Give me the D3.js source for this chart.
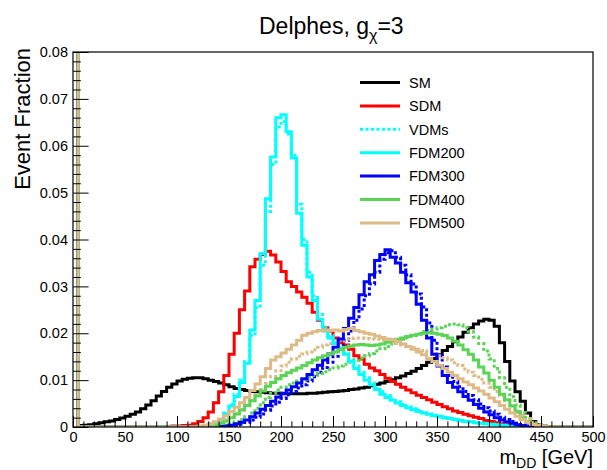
<!DOCTYPE html>
<html>
  <head>
    <meta http-equiv="Content-type" content="text/html; charset=utf-8"/>
    <title>Delphes m_DD</title>
    <script src="https://d3js.org/d3.v7.min.js"></script>
    <style>
      body{ margin: 0; background: #fff; }
      svg{ display: block; font-family: "Liberation Sans", Arial, Helvetica, sans-serif; }
    </style>
  </head>
  <body>
    <svg width="607" height="470"></svg>
    <script>
      // ### Data: 100 bins of 5 GeV, 0-500 GeV (first bin overflows the frame) ###
      var binWidth = 5;
      var xTicks = [0, 50, 100, 150, 200, 250, 300, 350, 400, 450, 500];
      var yTicks = [0, 0.01, 0.02, 0.03, 0.04, 0.05, 0.06, 0.07, 0.08];

      var SM = [
        0.1, 0.0003, 0.0004, 0.0005, 0.0007, 0.0009, 0.0011, 0.0013, 0.0016, 0.0019,
        0.0023, 0.0027, 0.0032, 0.0039, 0.0047, 0.0056, 0.0066, 0.0076, 0.0085, 0.0092,
        0.0098, 0.0102, 0.0104, 0.0105, 0.0105, 0.0103, 0.0100, 0.0097, 0.0094, 0.0090,
        0.0086, 0.0082, 0.0080, 0.0078, 0.0076, 0.0075, 0.0074, 0.0073, 0.0072, 0.0072,
        0.0071, 0.0071, 0.0071, 0.0071, 0.0071, 0.0072, 0.0072, 0.0073, 0.0074, 0.0075,
        0.0076, 0.0077, 0.0078, 0.0080, 0.0081, 0.0083, 0.0085, 0.0088, 0.0091, 0.0094,
        0.0097, 0.0101, 0.0105, 0.0109, 0.0114, 0.0119, 0.0125, 0.0131, 0.0138, 0.0146,
        0.0154, 0.0163, 0.0172, 0.0182, 0.0192, 0.0202, 0.0212, 0.0220, 0.0226, 0.0230,
        0.0228, 0.0215, 0.0180, 0.0140, 0.0098, 0.0075, 0.0055, 0.0030, 0.0012, 0.0005,
        0.0002, 0.0001, 0, 0, 0, 0, 0, 0, 0, 0
      ];
      var SDM = [
        0.1, 0, 0, 0, 0, 0, 0, 0, 0, 0,
        0, 0, 0, 0, 0, 0, 0, 0.0001, 0.0001, 0.0002,
        0.0002, 0.0003, 0.0004, 0.0007, 0.0012, 0.0020, 0.0032, 0.0052, 0.0075, 0.0110,
        0.0155, 0.0200, 0.0250, 0.0290, 0.0342, 0.0358, 0.0368, 0.0375, 0.0367, 0.0352,
        0.0332, 0.0310, 0.0300, 0.0288, 0.0277, 0.0264, 0.0245, 0.0228, 0.0212, 0.0205,
        0.0190, 0.0180, 0.0175, 0.0166, 0.0152, 0.0145, 0.0134, 0.0126, 0.0120, 0.0112,
        0.0104, 0.0097, 0.0091, 0.0085, 0.0079, 0.0073, 0.0068, 0.0063, 0.0058, 0.0053,
        0.0048, 0.0043, 0.0039, 0.0034, 0.0031, 0.0027, 0.0024, 0.0021, 0.0018, 0.0014,
        0.0012, 0.0009, 0.0007, 0.0005, 0.0004, 0.0003, 0.0002, 0.0001, 0.0001, 0.0001,
        0, 0, 0, 0, 0, 0, 0, 0, 0, 0
      ];
      var FDM200 = [
        0.1, 0, 0, 0, 0, 0, 0, 0, 0, 0,
        0, 0, 0, 0, 0, 0, 0, 0, 0, 0,
        0, 0, 0, 0, 0.0001, 0.0002, 0.0004, 0.0008, 0.0015, 0.0028,
        0.0045, 0.0065, 0.0095, 0.0136, 0.0207, 0.0270, 0.0370, 0.0487, 0.0576, 0.0660,
        0.0666, 0.0630, 0.0574, 0.0456, 0.0388, 0.0320, 0.0270, 0.0230, 0.0205, 0.0190,
        0.0178, 0.0166, 0.0155, 0.0140, 0.0125, 0.0112, 0.0100, 0.0090, 0.0080, 0.0070,
        0.0063, 0.0057, 0.0051, 0.0046, 0.0041, 0.0037, 0.0033, 0.0030, 0.0027, 0.0024,
        0.0022, 0.0020, 0.0018, 0.0016, 0.0014, 0.0012, 0.0011, 0.0009, 0.0008, 0.0007,
        0.0006, 0.0005, 0.0004, 0.0003, 0.0002, 0.0002, 0.0002, 0.0001, 0.0001, 0.0001,
        0, 0, 0, 0, 0, 0, 0, 0, 0, 0
      ];
      var VDM200 = [
        0.1, 0, 0, 0, 0, 0, 0, 0, 0, 0,
        0, 0, 0, 0, 0, 0, 0, 0, 0, 0,
        0, 0, 0, 0, 0.0001, 0.0002, 0.0004, 0.0008, 0.0016, 0.0030,
        0.0048, 0.0070, 0.0100, 0.0140, 0.0195, 0.0255, 0.0345, 0.0460, 0.0560, 0.0640,
        0.0652, 0.0625, 0.0580, 0.0475, 0.0400, 0.0330, 0.0280, 0.0240, 0.0212, 0.0195,
        0.0182, 0.0170, 0.0158, 0.0144, 0.0130, 0.0117, 0.0105, 0.0094, 0.0084, 0.0075,
        0.0067, 0.0060, 0.0054, 0.0048, 0.0043, 0.0039, 0.0035, 0.0031, 0.0028, 0.0025,
        0.0023, 0.0021, 0.0019, 0.0017, 0.0015, 0.0013, 0.0011, 0.0010, 0.0008, 0.0007,
        0.0006, 0.0005, 0.0004, 0.0003, 0.0002, 0.0002, 0.0002, 0.0001, 0.0001, 0.0001,
        0, 0, 0, 0, 0, 0, 0, 0, 0, 0
      ];
      var FDM300 = [
        0.1, 0, 0, 0, 0, 0, 0, 0, 0, 0,
        0, 0, 0, 0, 0, 0, 0, 0, 0, 0,
        0, 0, 0, 0, 0, 0, 0, 0, 0.0001, 0.0002,
        0.0004, 0.0007, 0.0010, 0.0015, 0.0022, 0.0030, 0.0038, 0.0046, 0.0055, 0.0064,
        0.0072, 0.0079, 0.0086, 0.0094, 0.0103, 0.0112, 0.0122, 0.0132, 0.0143, 0.0156,
        0.0170, 0.0188, 0.0210, 0.0232, 0.0255, 0.0282, 0.0310, 0.0325, 0.0355, 0.0368,
        0.0378, 0.0362, 0.0350, 0.0330, 0.0308, 0.0288, 0.0262, 0.0228, 0.0190, 0.0155,
        0.0130, 0.0110, 0.0095, 0.0085, 0.0075, 0.0065, 0.0057, 0.0048, 0.0040, 0.0032,
        0.0026, 0.0020, 0.0015, 0.0011, 0.0008, 0.0005, 0.0003, 0.0002, 0.0002, 0.0001,
        0, 0, 0, 0, 0, 0, 0, 0, 0, 0
      ];
      var VDM300 = [
        0.1, 0, 0, 0, 0, 0, 0, 0, 0, 0,
        0, 0, 0, 0, 0, 0, 0, 0, 0, 0,
        0, 0, 0, 0, 0, 0, 0, 0, 0, 0,
        0.0002, 0.0004, 0.0006, 0.0010, 0.0015, 0.0021, 0.0028, 0.0036, 0.0045, 0.0053,
        0.0061, 0.0069, 0.0076, 0.0083, 0.0090, 0.0098, 0.0107, 0.0117, 0.0127, 0.0138,
        0.0151, 0.0166, 0.0185, 0.0205, 0.0228, 0.0252, 0.0280, 0.0305, 0.0330, 0.0358,
        0.0372, 0.0376, 0.0362, 0.0345, 0.0325, 0.0305, 0.0284, 0.0256, 0.0222, 0.0185,
        0.0152, 0.0128, 0.0110, 0.0097, 0.0086, 0.0076, 0.0067, 0.0058, 0.0049, 0.0041,
        0.0034, 0.0027, 0.0021, 0.0016, 0.0012, 0.0008, 0.0005, 0.0003, 0.0002, 0.0001,
        0, 0, 0, 0, 0, 0, 0, 0, 0, 0
      ];
      var FDM400 = [
        0.1, 0, 0, 0, 0, 0, 0, 0, 0, 0,
        0, 0, 0, 0, 0, 0, 0, 0, 0, 0,
        0, 0, 0, 0, 0, 0, 0.0002, 0.0004, 0.0008, 0.0013,
        0.0020, 0.0028, 0.0037, 0.0046, 0.0056, 0.0066, 0.0077, 0.0087, 0.0095, 0.0103,
        0.0110, 0.0116, 0.0121, 0.0126, 0.0131, 0.0137, 0.0143, 0.0148, 0.0152, 0.0156,
        0.0160, 0.0165, 0.0170, 0.0173, 0.0175, 0.0176, 0.0175, 0.0174, 0.0175, 0.0177,
        0.0181, 0.0184, 0.0187, 0.0190, 0.0193, 0.0196, 0.0198, 0.0200, 0.0201, 0.0200,
        0.0198, 0.0195, 0.0190, 0.0183, 0.0175, 0.0165, 0.0155, 0.0143, 0.0128, 0.0115,
        0.0100, 0.0085, 0.0070, 0.0058, 0.0045, 0.0032, 0.0020, 0.0011, 0.0006, 0.0003,
        0.0001, 0, 0, 0, 0, 0, 0, 0, 0, 0
      ];
      var VDM400 = [
        0.1, 0, 0, 0, 0, 0, 0, 0, 0, 0,
        0, 0, 0, 0, 0, 0, 0, 0, 0, 0,
        0, 0, 0, 0, 0, 0, 0, 0, 0.0002, 0.0004,
        0.0007, 0.0011, 0.0016, 0.0022, 0.0030, 0.0040, 0.0052, 0.0063, 0.0072, 0.0079,
        0.0085, 0.0090, 0.0094, 0.0098, 0.0102, 0.0106, 0.0110, 0.0114, 0.0118, 0.0122,
        0.0126, 0.0130, 0.0134, 0.0138, 0.0142, 0.0147, 0.0152, 0.0157, 0.0162, 0.0167,
        0.0172, 0.0177, 0.0182, 0.0187, 0.0191, 0.0195, 0.0199, 0.0203, 0.0206, 0.0209,
        0.0212, 0.0215, 0.0218, 0.0220, 0.0218, 0.0212, 0.0203, 0.0192, 0.0178, 0.0162,
        0.0145, 0.0125, 0.0105, 0.0085, 0.0065, 0.0047, 0.0031, 0.0018, 0.0009, 0.0004,
        0.0002, 0.0001, 0, 0, 0, 0, 0, 0, 0, 0
      ];
      var FDM500 = [
        0.1, 0, 0, 0, 0, 0, 0, 0, 0, 0,
        0, 0, 0, 0, 0, 0, 0, 0, 0, 0,
        0, 0, 0, 0, 0.0002, 0.0004, 0.0007, 0.0011, 0.0017, 0.0024,
        0.0033, 0.0042, 0.0052, 0.0063, 0.0078, 0.0092, 0.0107, 0.0125, 0.0143, 0.0150,
        0.0158, 0.0166, 0.0175, 0.0185, 0.0196, 0.0200, 0.0203, 0.0206, 0.0207, 0.0206,
        0.0207, 0.0205, 0.0208, 0.0210, 0.0206, 0.0203, 0.0200, 0.0198, 0.0194, 0.0191,
        0.0188, 0.0186, 0.0182, 0.0177, 0.0172, 0.0166, 0.0160, 0.0154, 0.0146, 0.0140,
        0.0132, 0.0125, 0.0117, 0.0110, 0.0103, 0.0096, 0.0090, 0.0083, 0.0077, 0.0070,
        0.0062, 0.0054, 0.0046, 0.0038, 0.0030, 0.0023, 0.0016, 0.0010, 0.0006, 0.0003,
        0.0001, 0, 0, 0, 0, 0, 0, 0, 0, 0
      ];
      var VDM500 = [
        0.1, 0, 0, 0, 0, 0, 0, 0, 0, 0,
        0, 0, 0, 0, 0, 0, 0, 0, 0, 0,
        0, 0, 0, 0, 0, 0, 0.0003, 0.0006, 0.0010, 0.0015,
        0.0021, 0.0028, 0.0036, 0.0045, 0.0056, 0.0068, 0.0080, 0.0093, 0.0108, 0.0120,
        0.0130, 0.0138, 0.0145, 0.0151, 0.0156, 0.0160, 0.0165, 0.0170, 0.0175, 0.0178,
        0.0181, 0.0184, 0.0187, 0.0189, 0.0190, 0.0190, 0.0189, 0.0188, 0.0187, 0.0185,
        0.0183, 0.0181, 0.0178, 0.0175, 0.0172, 0.0169, 0.0166, 0.0163, 0.0160, 0.0156,
        0.0152, 0.0148, 0.0143, 0.0137, 0.0131, 0.0124, 0.0117, 0.0110, 0.0102, 0.0094,
        0.0085, 0.0076, 0.0066, 0.0056, 0.0046, 0.0036, 0.0026, 0.0017, 0.0010, 0.0005,
        0.0002, 0.0001, 0, 0, 0, 0, 0, 0, 0, 0
      ];

      // drawing order as in the original canvas
      var series = [
        {name: "SM",     values: SM,     color: "#000000", dotted: false},
        {name: "SDM",    values: SDM,    color: "#ff0000", dotted: false},
        {name: "VDM200", values: VDM200, color: "#00ffff", dotted: true},
        {name: "VDM300", values: VDM300, color: "#0000ff", dotted: true},
        {name: "VDM400", values: VDM400, color: "#59d454", dotted: true},
        {name: "VDM500", values: VDM500, color: "#deba87", dotted: true},
        {name: "FDM200", values: FDM200, color: "#00ffff", dotted: false},
        {name: "FDM300", values: FDM300, color: "#0000ff", dotted: false},
        {name: "FDM400", values: FDM400, color: "#59d454", dotted: false},
        {name: "FDM500", values: FDM500, color: "#deba87", dotted: false}
      ];
      var legendEntries = [
        {label: "SM",     color: "#000000", dotted: false},
        {label: "SDM",    color: "#ff0000", dotted: false},
        {label: "VDMs",   color: "#00ffff", dotted: true},
        {label: "FDM200", color: "#00ffff", dotted: false},
        {label: "FDM300", color: "#0000ff", dotted: false},
        {label: "FDM400", color: "#59d454", dotted: false},
        {label: "FDM500", color: "#deba87", dotted: false}
      ];

      var svg = d3.select("svg"),
          frame = {left: 73, right: 593, top: 52, bottom: 427};

      var x = d3.scaleLinear().domain([0, 500]).range([frame.left, frame.right]);
      var y = d3.scaleLinear().domain([0, 0.08]).range([frame.bottom, frame.top]);

      svg.append("clipPath").attr("id", "frameClip")
        .append("rect")
          .attr("x", frame.left).attr("y", frame.top)
          .attr("width", frame.right - frame.left)
          .attr("height", frame.bottom - frame.top);

      // step outline of a histogram
      var line = d3.line()
          .x(function(d) { return x(d[0]); })
          .y(function(d) { return y(d[1]); })
          .curve(d3.curveStepAfter);

      function histPoints(vals) {
        var pts = vals.map(function(v, i) { return [i * binWidth, v]; });
        pts.push([vals.length * binWidth, vals[vals.length - 1]]);
        return pts;
      }

      var hist = svg.append("g").attr("clip-path", "url(#frameClip)");
      series.forEach(function(s) {
        hist.append("path")
            .datum(histPoints(s.values))
            .attr("fill", "none")
            .attr("stroke", s.color)
            .attr("stroke-width", 3)
            .attr("stroke-dasharray", s.dotted ? "3,2.5" : null)
            .attr("d", line);
      });

      // axes, ROOT style ticks pointing inwards
      var xMinor = d3.range(0, 501, 10).filter(function(v) { return v % 50 !== 0; });
      var yMinor = d3.range(0, 41).map(function(i) { return i * 0.002; })
          .filter(function(v, i) { return i % 5 !== 0; });

      var gx = svg.append("g").attr("transform", "translate(0," + frame.bottom + ")");
      gx.call(d3.axisBottom(x).tickValues(xTicks).tickSize(-11).tickPadding(5).tickFormat(d3.format("d")));
      gx.append("g").call(d3.axisBottom(x).tickValues(xMinor).tickSize(-5.6).tickFormat(""))
        .select(".domain").remove();

      var gy = svg.append("g").attr("transform", "translate(" + frame.left + ",0)");
      gy.call(d3.axisLeft(y).tickValues(yTicks).tickSize(-15.6).tickPadding(5)
          .tickFormat(function(d) { return d === 0 ? "0" : d.toFixed(2); }));
      gy.append("g").call(d3.axisLeft(y).tickValues(yMinor).tickSize(-7.8).tickFormat(""))
        .select(".domain").remove();

      svg.selectAll(".domain").remove();
      svg.selectAll(".tick line").attr("stroke", "#000");
      svg.selectAll(".tick text")
          .attr("fill", "#000")
          .style("font-size", "14.5px")
          .style("font-family", "'Liberation Sans', Arial, sans-serif");

      svg.append("rect")
          .attr("x", frame.left).attr("y", frame.top)
          .attr("width", frame.right - frame.left)
          .attr("height", frame.bottom - frame.top)
          .attr("fill", "none")
          .attr("stroke", "#000")
          .attr("stroke-width", 1.2);

      // titles
      var title = svg.append("text")
          .attr("x", 259).attr("y", 34)
          .style("font-size", "23px");
      title.append("tspan").text("Delphes, g");
      title.append("tspan").attr("dy", 7).style("font-size", "16px").text("χ");
      title.append("tspan").attr("dy", -7).text("=3");

      svg.append("text")
          .attr("transform", "translate(30,48) rotate(-90)")
          .attr("text-anchor", "end")
          .style("font-size", "22px")
          .text("Event Fraction");

      var xt = svg.append("text")
          .attr("x", frame.right).attr("y", 464)
          .attr("text-anchor", "end")
          .style("font-size", "20px");
      xt.append("tspan").text("m");
      xt.append("tspan").attr("dy", 4).style("font-size", "14px").text("DD");
      xt.append("tspan").attr("dy", -4).text(" [GeV]");

      // legend
      var leg = svg.append("g");
      legendEntries.forEach(function(e, i) {
        var yy = 82.5 + i * 23.4;
        leg.append("line")
            .attr("x1", 360).attr("x2", 400)
            .attr("y1", yy).attr("y2", yy)
            .attr("stroke", e.color)
            .attr("stroke-width", 3)
            .attr("stroke-dasharray", e.dotted ? "3,2.5" : null);
        leg.append("text")
            .attr("x", 409).attr("y", yy)
            .attr("dy", "0.36em")
            .style("font-size", "14.5px")
            .text(e.label);
      });
    </script>
  </body>
</html>
